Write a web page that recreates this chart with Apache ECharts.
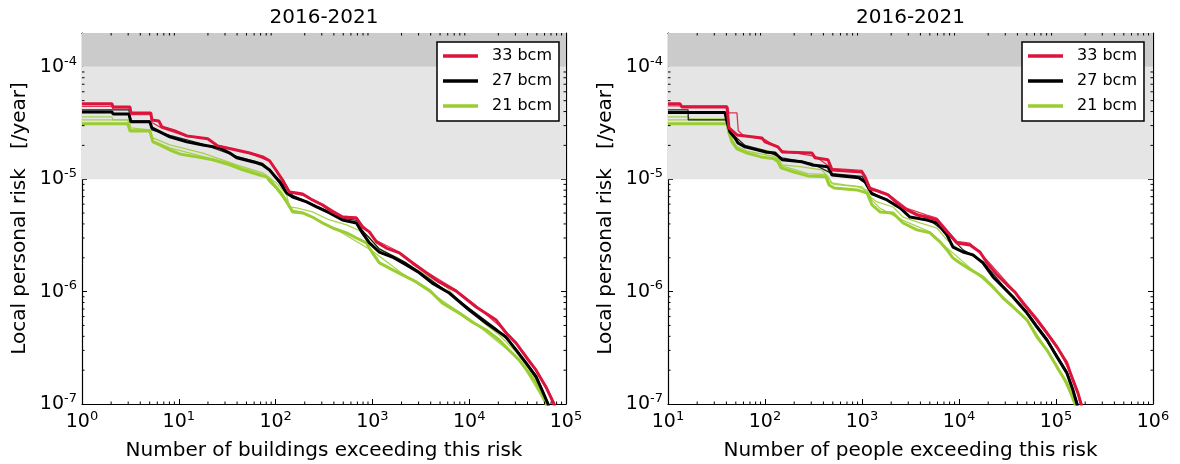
<!DOCTYPE html>
<html><head><meta charset="utf-8">
<script src="https://cdn.jsdelivr.net/npm/echarts@6/dist/echarts.min.js"></script>
<style>html,body{margin:0;padding:0;background:#fff}#c{width:1180px;height:464px}</style>
</head><body><div id="c"></div>
<script>
const FONT = 'DejaVu Sans';
const seriesNames = ['33 bcm', '27 bcm', '21 bcm'];
const seriesColors = ['#dc143c', '#000000', '#9acd32'];
const titleText = '2016-2021';
const yName = 'Local personal risk   [/year]';
const xNameBuildings = 'Number of buildings exceeding this risk';
const xNamePeople = 'Number of people exceeding this risk';
const yRange = [1e-7, 2e-4];
const xRangeBuildings = [1, 1e5];
const xRangePeople = [10, 1e6];
const bandLight = [1e-5, 1e-4];
const bandDark = [1e-4, 2e-4];
const minorMultipliers = [2, 3, 4, 5, 6, 7, 8, 9];

// ---- Left panel: buildings ----
const bRedThick = [[1,4.69e-5],[2.04,4.69e-5],[2.09,4.40e-5],[3.13,4.40e-5],[3.2,3.89e-5],[5.14,3.89e-5],[5.27,3.37e-5],[6.22,3.30e-5],[6.68,2.92e-5],[9.1,2.69e-5],[12.1,2.43e-5],[19.9,2.29e-5],[25.2,1.98e-5],[35.2,1.86e-5],[54,1.71e-5],[73.5,1.58e-5],[86.7,1.46e-5],[102,1.19e-5],[121,9.46e-6],[139,7.71e-6],[165,7.55e-6],[190,7.40e-6],[240,6.54e-6],[305,5.90e-6],[387,5.12e-6],[491,4.61e-6],[684,4.52e-6],[788,3.76e-6],[931,3.40e-6],[1100,2.77e-6],[1393,2.44e-6],[1897,2.21e-6],[2583,1.80e-6],[3600,1.47e-6],[4900,1.22e-6],[7340,1.01e-6],[11800,7.30e-7],[19000,5.58e-7],[24100,4.28e-7],[30500,3.48e-7],[38700,2.62e-7],[49100,2.00e-7],[62200,1.41e-7],[75200,1.0e-7],[78900,7.9e-8]];
const bRedThin = [[1,4.45e-5],[2.04,4.45e-5],[2.09,4.2e-5],[3.13,4.2e-5],[3.2,3.75e-5],[5.14,3.75e-5],[5.27,3.2e-5],[6.68,2.85e-5],[12.1,2.4e-5],[19.9,2.3e-5],[25.2,2.0e-5],[54,1.7e-5],[86.7,1.45e-5],[121,9.8e-6],[139,7.6e-6],[190,7.2e-6],[305,6.0e-6],[491,4.7e-6],[684,4.6e-6],[788,3.9e-6],[1100,2.85e-6],[1897,2.25e-6],[3600,1.5e-6],[7340,1.03e-6],[11800,7.5e-7],[24100,4.4e-7],[38700,2.7e-7],[62200,1.45e-7],[76000,1.0e-7],[80000,7.9e-8]];
const bBlackThick = [[1,3.97e-5],[2.04,3.97e-5],[2.09,3.81e-5],[3.05,3.81e-5],[3.2,3.24e-5],[5.02,3.24e-5],[5.27,2.86e-5],[6.37,2.64e-5],[8.08,2.38e-5],[12.1,2.15e-5],[17.7,2.02e-5],[26.5,1.90e-5],[33.6,1.71e-5],[39.6,1.55e-5],[63.7,1.40e-5],[73.5,1.34e-5],[86.7,1.21e-5],[110,9.46e-6],[130,7.55e-6],[150,6.95e-6],[209,6.28e-6],[265,5.66e-6],[361,5.01e-6],[491,4.34e-6],[684,4.08e-6],[788,3.33e-6],[931,2.71e-6],[1181,2.25e-6],[1607,2.03e-6],[2243,1.73e-6],[3054,1.47e-6],[4155,1.19e-6],[6224,9.72e-7],[10000,6.86e-7],[14970,5.25e-7],[18970,4.55e-7],[24050,3.94e-7],[30540,3.02e-7],[38700,2.31e-7],[49100,1.74e-7],[56600,1.33e-7],[65200,1.0e-7],[68400,7.9e-8]];
const bBlackThin = [[1,4.14e-5],[3.05,4.14e-5],[3.2,3.3e-5],[5.02,3.3e-5],[5.27,2.75e-5],[8.08,2.45e-5],[17.7,2.05e-5],[39.6,1.6e-5],[73.5,1.38e-5],[110,9.8e-6],[150,7.2e-6],[265,5.8e-6],[491,4.5e-6],[684,4.3e-6],[788,3.5e-6],[1181,2.4e-6],[2243,1.8e-6],[4155,1.25e-6],[10000,7.1e-7],[18970,4.7e-7],[30540,3.1e-7],[49100,1.8e-7],[66000,1.0e-7],[69000,7.9e-8]];
const bGreenThick = [[1,3.11e-5],[2.98,3.11e-5],[3.13,2.69e-5],[5.02,2.69e-5],[5.40,2.15e-5],[6.37,2.02e-5],[8.08,1.82e-5],[10.2,1.68e-5],[15.3,1.58e-5],[22.4,1.49e-5],[33.6,1.34e-5],[45.7,1.21e-5],[68.4,1.09e-5],[80.8,1.05e-5],[86.7,9.66e-6],[102,8.37e-6],[118,7.10e-6],[130,6.28e-6],[150,5.12e-6],[190,5.01e-6],[240,4.61e-6],[305,4.08e-6],[387,3.68e-6],[540,3.33e-6],[684,3.00e-6],[867,2.71e-6],[1000,2.21e-6],[1181,1.80e-6],[1497,1.62e-6],[2038,1.41e-6],[2842,1.22e-6],[3870,1.03e-6],[5270,7.91e-7],[7890,6.44e-7],[10700,5.36e-7],[15000,4.55e-7],[20400,3.71e-7],[25800,3.02e-7],[32800,2.46e-7],[41600,1.88e-7],[49100,1.53e-7],[55300,1.25e-7],[62200,1.0e-7],[65200,7.9e-8]];
const bGreenThinA = [[1,3.59e-5],[2.04,3.59e-5],[2.09,3.37e-5],[3.05,3.37e-5],[3.2,2.86e-5],[5.02,2.75e-5],[5.40,2.33e-5],[8.08,2.02e-5],[17.7,1.71e-5],[39.6,1.34e-5],[73.5,1.14e-5],[102,9.27e-6],[130,7.25e-6],[139,5.66e-6],[165,5.55e-6],[240,5.12e-6],[361,4.34e-6],[540,3.92e-6],[788,3.40e-6],[931,3.06e-6],[1181,2.35e-6],[1770,2.03e-6],[2583,1.66e-6],[3870,1.35e-6],[5790,1.10e-6],[7890,8.2e-7],[15000,5.04e-7],[20400,4.11e-7],[30500,2.90e-7],[44600,1.88e-7],[56600,1.25e-7],[64000,1.0e-7],[66700,7.9e-8]];
const bGreenThinB = [[1,3.37e-5],[2.98,3.37e-5],[3.13,2.75e-5],[5.02,2.75e-5],[5.40,2.2e-5],[8.08,1.9e-5],[15.3,1.65e-5],[33.6,1.38e-5],[68.4,1.12e-5],[86.7,1.02e-5],[118,7.5e-6],[150,5.3e-6],[190,5.1e-6],[387,3.75e-6],[1000,2.3e-6],[2038,1.45e-6],[10700,5.5e-7],[32800,2.5e-7],[62200,1.0e-7],[65200,7.9e-8]];

// ---- Right panel: people ----
const pRedThick = [[10,4.69e-5],[13.3,4.69e-5],[13.9,4.40e-5],[40.6,4.40e-5],[42.5,2.86e-5],[51.4,2.48e-5],[93,2.33e-5],[100,2.15e-5],[136,1.94e-5],[150,1.75e-5],[305,1.71e-5],[328,1.55e-5],[446,1.49e-5],[491,1.21e-5],[1000,1.16e-5],[1075,1.05e-5],[1209,8.20e-6],[1428,7.87e-6],[1854,7.25e-6],[2296,6.15e-6],[2911,5.33e-6],[3690,4.81e-6],[4680,4.61e-6],[5930,4.34e-6],[6840,3.76e-6],[8070,3.19e-6],[9530,2.71e-6],[12970,2.60e-6],[16440,2.25e-6],[19450,1.80e-6],[24660,1.41e-6],[31260,1.15e-6],[37780,9.91e-7],[45700,7.91e-7],[63700,5.58e-7],[80700,4.28e-7],[102400,3.21e-7],[129700,2.31e-7],[149600,1.63e-7],[168500,1.25e-7],[181000,1.0e-7],[189800,7.9e-8]];
const pRedThin = [[10,4.5e-5],[40.6,4.5e-5],[42.5,3.9e-5],[51.4,3.9e-5],[53,2.7e-5],[60,2.45e-5],[100,2.25e-5],[150,1.8e-5],[328,1.6e-5],[491,1.25e-5],[1000,1.2e-5],[1209,8.5e-6],[1854,7.4e-6],[2911,5.5e-6],[4680,4.8e-6],[5930,4.5e-6],[8070,3.3e-6],[9530,2.8e-6],[12970,2.7e-6],[19450,1.9e-6],[31260,1.2e-6],[45700,8.2e-7],[63700,5.8e-7],[102400,3.3e-7],[149600,1.7e-7],[185000,1.0e-7],[195000,7.9e-8]];
const pBlackThick = [[10,3.93e-5],[38.7,3.93e-5],[40.6,3.24e-5],[43.5,2.64e-5],[49.1,2.33e-5],[52.7,2.10e-5],[62.2,1.94e-5],[100,1.75e-5],[127,1.71e-5],[150,1.49e-5],[240,1.43e-5],[305,1.34e-5],[446,1.29e-5],[491,1.09e-5],[931,1.03e-5],[1075,9.46e-6],[1268,7.40e-6],[1811,6.54e-6],[2466,5.55e-6],[3125,4.61e-6],[4680,4.34e-6],[5930,4.08e-6],[7520,3.19e-6],[8670,2.49e-6],[11000,2.25e-6],[13930,2.12e-6],[17660,1.80e-6],[22440,1.35e-6],[28440,1.10e-6],[36060,8.95e-7],[50240,6.44e-7],[63700,4.84e-7],[80700,3.71e-7],[102400,2.62e-7],[129700,1.88e-7],[149600,1.33e-7],[164400,1.0e-7],[172600,7.9e-8]];
const pBlackThin = [[10,4.14e-5],[16.1,4.14e-5],[16.2,3.37e-5],[40.6,3.37e-5],[43.5,2.7e-5],[49.1,2.4e-5],[62.2,2.0e-5],[100,1.8e-5],[150,1.55e-5],[305,1.38e-5],[491,1.12e-5],[1000,1.06e-5],[1268,7.6e-6],[2466,5.7e-6],[4680,4.5e-6],[7520,3.3e-6],[11000,2.35e-6],[17660,1.85e-6],[28440,1.13e-6],[50240,6.6e-7],[80700,3.8e-7],[129700,1.95e-7],[168000,1.0e-7],[176000,7.9e-8]];
const pGreenThick = [[10,3.11e-5],[40.6,3.11e-5],[42.5,2.58e-5],[45.7,2.15e-5],[51.4,1.86e-5],[65.2,1.71e-5],[90.9,1.58e-5],[124,1.52e-5],[136,1.43e-5],[146,1.26e-5],[199,1.16e-5],[277,1.07e-5],[425,1.05e-5],[457,8.89e-6],[514,8.37e-6],[887,8.03e-6],[1127,7.55e-6],[1268,5.90e-6],[1534,5.12e-6],[2090,5.01e-6],[2650,4.08e-6],[3690,3.54e-6],[5020,3.33e-6],[6370,2.77e-6],[7520,2.35e-6],[8670,1.99e-6],[10240,1.80e-6],[13300,1.56e-6],[17660,1.35e-6],[22440,1.10e-6],[28440,8.77e-7],[36060,7.30e-7],[50240,5.58e-7],[63700,3.94e-7],[80700,3.02e-7],[102400,2.13e-7],[129700,1.53e-7],[157000,1.0e-7],[164400,7.9e-8]];
const pGreenThinA = [[10,3.59e-5],[16.1,3.59e-5],[16.9,3.44e-5],[40.6,3.44e-5],[45.7,2.38e-5],[57.9,2.02e-5],[78.7,1.90e-5],[118,1.75e-5],[136,1.55e-5],[150,1.34e-5],[240,1.29e-5],[386,1.21e-5],[446,1.05e-5],[491,9.27e-6],[667,8.89e-6],[1000,8.55e-6],[1155,7.25e-6],[1428,6.28e-6],[2090,5.66e-6],[2650,4.61e-6],[3960,4.08e-6],[5930,3.68e-6],[7520,2.88e-6],[10240,2.35e-6],[13930,2.07e-6],[17660,1.78e-6],[28440,1.08e-6],[50240,6.3e-7],[80700,3.63e-7],[129700,1.85e-7],[160000,1.0e-7],[168000,7.9e-8]];
const pGreenThinB = [[10,3.37e-5],[40.6,3.37e-5],[42.5,2.5e-5],[45.7,2.25e-5],[51.4,1.95e-5],[65.2,1.78e-5],[124,1.6e-5],[136,1.5e-5],[146,1.32e-5],[277,1.12e-5],[425,1.1e-5],[457,9.5e-6],[514,9.0e-6],[887,8.6e-6],[1127,8.0e-6],[1268,6.5e-6],[1534,5.5e-6],[2650,4.3e-6],[5020,3.4e-6],[7520,2.45e-6],[13300,1.6e-6],[28440,9.0e-7],[50240,5.7e-7],[102400,2.2e-7],[158000,1.0e-7],[166000,7.9e-8]];

const chart = echarts.init(document.getElementById('c'), null, {renderer: 'canvas'});

const rich = {
  b: {fontSize: 19, lineHeight: 24, fontFamily: FONT, color: '#000'},
  s: {fontSize: 13, lineHeight: 13, fontFamily: FONT, color: '#000', verticalAlign: 'top'}
};
function supFmt(v) {
  const e = Math.round(Math.log10(v));
  return '{b|10}{s|' + e + '}';
}
const black = {color: '#000', width: 1.2};
const nameStyle = {fontSize: 20, fontFamily: FONT, color: '#000'};

function xAxes(gi, range, name) {
  return [
    {type: 'log', logBase: 10, gridIndex: gi, min: range[0], max: range[1], position: 'bottom',
     axisLine: {show: true, onZero: false, lineStyle: black},
     axisTick: {show: true, inside: true, length: 5, lineStyle: {color: '#000', width: 1}},
     axisLabel: {formatter: supFmt, rich: rich, margin: 6},
     splitLine: {show: false}, minorTick: {show: false},
     name: name, nameLocation: 'middle', nameGap: 37, nameTextStyle: nameStyle},
    {type: 'log', logBase: 10, gridIndex: gi, min: range[0], max: range[1], position: 'top',
     axisLine: {show: true, onZero: false, lineStyle: black},
     axisTick: {show: true, inside: true, length: 5, lineStyle: {color: '#000', width: 1}},
     axisLabel: {show: false}, splitLine: {show: false},
     name: titleText, nameLocation: 'middle', nameGap: 5, nameTextStyle: nameStyle}
  ];
}
function yAxes(gi) {
  return [
    {type: 'log', logBase: 10, gridIndex: gi, min: yRange[0], max: yRange[1], position: 'left',
     axisLine: {show: true, onZero: false, lineStyle: black},
     axisTick: {show: true, inside: true, length: 5, lineStyle: {color: '#000', width: 1}},
     axisLabel: {formatter: supFmt, rich: rich, margin: 5, showMaxLabel: false},
     splitLine: {show: false},
     name: yName, nameLocation: 'middle', nameGap: 52, nameTextStyle: nameStyle},
    {type: 'log', logBase: 10, gridIndex: gi, min: yRange[0], max: yRange[1], position: 'right',
     axisLine: {show: true, onZero: false, lineStyle: black},
     axisTick: {show: true, inside: true, length: 5, lineStyle: {color: '#000', width: 1}},
     axisLabel: {show: false}, splitLine: {show: false}}
  ];
}

function minorTickSeries(xi, yi, xr, yr) {
  const pts = [];
  const e0 = Math.round(Math.log10(xr[0])), e1 = Math.round(Math.log10(xr[1]));
  for (let e = e0; e < e1; e++) {
    for (const m of minorMultipliers) pts.push([m * Math.pow(10, e), yr[0], 0]);
  }
  const f0 = Math.round(Math.log10(yr[0]));
  for (let e = f0; Math.pow(10, e) < yr[1]; e++) {
    for (const m of minorMultipliers) {
      const v = m * Math.pow(10, e);
      if (v < yr[1] * 0.999) pts.push([xr[0], v, 1]);
    }
  }
  const L = 2.5;
  return {
    type: 'custom', xAxisIndex: xi, yAxisIndex: yi, silent: true, z: 10, data: pts,
    renderItem: function (params, api) {
      const cs = params.coordSys;
      const style = {stroke: '#000', lineWidth: 1};
      const p = api.coord([api.value(0), api.value(1)]);
      if (api.value(2) === 0) {
        const x = p[0];
        return {type: 'group', children: [
          {type: 'line', shape: {x1: x, y1: cs.y + cs.height, x2: x, y2: cs.y + cs.height - L}, style: style},
          {type: 'line', shape: {x1: x, y1: cs.y, x2: x, y2: cs.y + L}, style: style}
        ]};
      }
      const y = p[1];
      return {type: 'group', children: [
        {type: 'line', shape: {x1: cs.x, y1: y, x2: cs.x + L, y2: y}, style: style},
        {type: 'line', shape: {x1: cs.x + cs.width, y1: y, x2: cs.x + cs.width - L, y2: y}, style: style}
      ]};
    }
  };
}

function bandSeries(xi, yi) {
  return {
    type: 'line', xAxisIndex: xi, yAxisIndex: yi, data: [], z: 1, silent: true,
    markArea: {silent: true, data: [
      [{yAxis: bandLight[0], itemStyle: {color: '#e5e5e5'}}, {yAxis: bandLight[1]}],
      [{yAxis: bandDark[0], itemStyle: {color: '#cbcbcb'}}, {yAxis: bandDark[1]}]
    ]}
  };
}

function lineSeries(name, data, color, width, xi, yi, z, opacity) {
  return {
    type: 'line', name: name, data: data, xAxisIndex: xi, yAxisIndex: yi,
    showSymbol: false, symbol: 'none', silent: true, z: z, clip: true,
    lineStyle: {color: color, width: width, opacity: opacity},
    itemStyle: {color: color}
  };
}

function panelSeries(xi, yi, xr, sets) {
  const out = [bandSeries(xi, yi)];
  out.push(lineSeries('21 bcm thin a', sets.gA, seriesColors[2], 1.3, xi, yi, 3, 0.85));
  out.push(lineSeries('21 bcm thin b', sets.gB, seriesColors[2], 1.3, xi, yi, 3, 0.85));
  out.push(lineSeries(seriesNames[2], sets.g, seriesColors[2], 3, xi, yi, 4, 1));
  out.push(lineSeries('27 bcm thin', sets.kT, seriesColors[1], 1.3, xi, yi, 5, 0.85));
  out.push(lineSeries(seriesNames[1], sets.k, seriesColors[1], 3, xi, yi, 6, 1));
  out.push(lineSeries('33 bcm thin', sets.rT, seriesColors[0], 1.3, xi, yi, 7, 0.85));
  out.push(lineSeries(seriesNames[0], sets.r, seriesColors[0], 3, xi, yi, 8, 1));
  out.push(minorTickSeries(xi, yi, xr, yRange));
  return out;
}

function legend(left) {
  return {
    data: seriesNames, orient: 'vertical', left: left, top: 42,
    icon: 'rect', itemWidth: 35, itemHeight: 3.5, itemGap: 7,
    padding: [5, 7, 6, 6], backgroundColor: '#fff', borderColor: '#000', borderWidth: 1.5, borderRadius: 0,
    selectedMode: false,
    textStyle: {fontSize: 16, fontFamily: FONT, color: '#000', lineHeight: 18, padding: [0, 0, 0, 9]}
  };
}

const option = {
  animation: false,
  backgroundColor: '#fff',
  grid: [
    {left: 82, top: 33, width: 484, height: 371, outerBoundsMode: 'none', containLabel: false},
    {left: 668, top: 33, width: 485, height: 371, outerBoundsMode: 'none', containLabel: false}
  ],
  xAxis: [...xAxes(0, xRangeBuildings, xNameBuildings), ...xAxes(1, xRangePeople, xNamePeople)],
  yAxis: [...yAxes(0), ...yAxes(1)],
  legend: [legend(437), legend(1022)],
  series: [
    ...panelSeries(0, 0, xRangeBuildings, {r: bRedThick, rT: bRedThin, k: bBlackThick, kT: bBlackThin, g: bGreenThick, gA: bGreenThinA, gB: bGreenThinB}),
    ...panelSeries(2, 2, xRangePeople, {r: pRedThick, rT: pRedThin, k: pBlackThick, kT: pBlackThin, g: pGreenThick, gA: pGreenThinA, gB: pGreenThinB})
  ]
};
chart.setOption(option);
</script>
</body></html>
